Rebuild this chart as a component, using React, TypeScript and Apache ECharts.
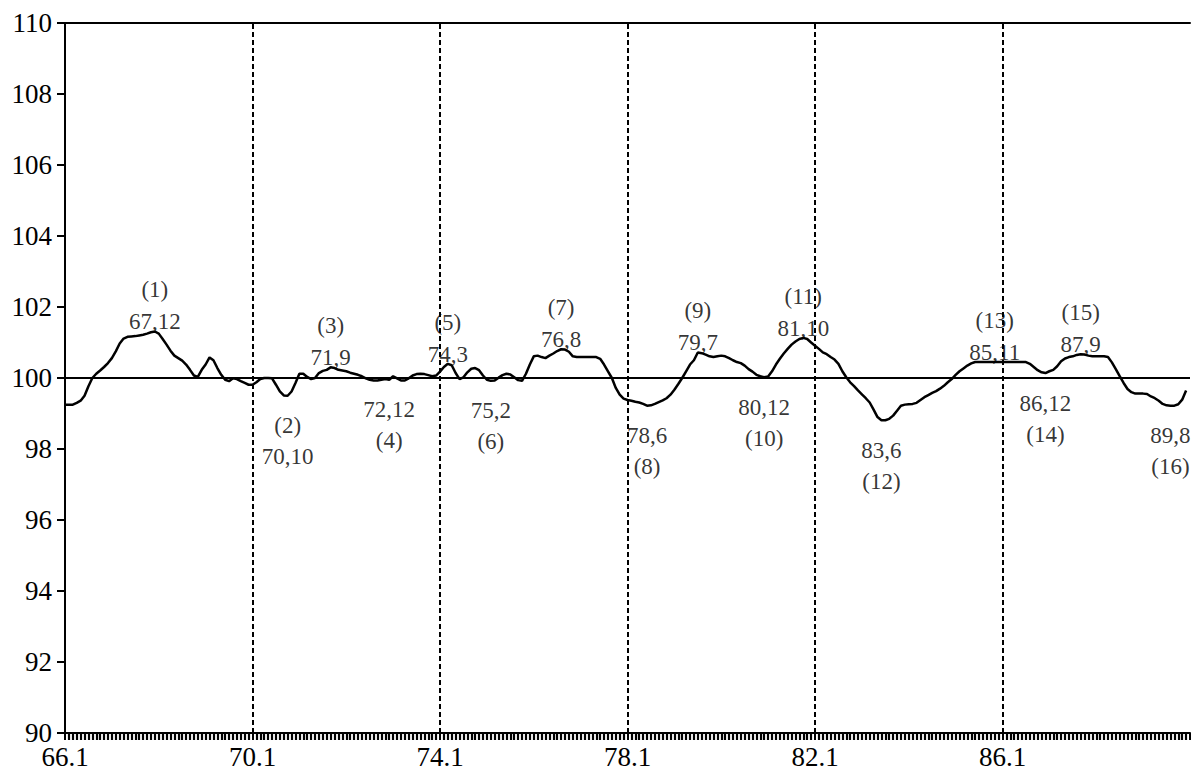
import React, { useEffect, useRef } from "react";
import * as echarts from "echarts";

// Monthly index values, January 1966 through December 1989 (one row per year)
const START_YEAR = 66;
const indexValues: number[] = [
  99.25, 99.25, 99.25, 99.3, 99.36, 99.5, 99.77, 100.0, 100.12, 100.21, 100.31, 100.42, // 66
  100.56, 100.75, 100.97, 101.11, 101.16, 101.17, 101.18, 101.2, 101.22, 101.25, 101.29, 101.31, // 67
  101.25, 101.1, 100.94, 100.77, 100.63, 100.56, 100.49, 100.38, 100.23, 100.07, 100.03, 100.23, // 68
  100.38, 100.58, 100.5, 100.28, 100.09, 99.95, 99.91, 99.99, 99.97, 99.91, 99.86, 99.81, // 69
  99.81, 99.88, 99.97, 100.0, 100.0, 99.99, 99.81, 99.62, 99.51, 99.5, 99.62, 99.86, // 70
  100.12, 100.12, 100.03, 99.97, 100.0, 100.14, 100.2, 100.23, 100.3, 100.28, 100.23, 100.21, // 71
  100.19, 100.15, 100.12, 100.09, 100.05, 99.99, 99.95, 99.93, 99.93, 99.95, 99.97, 99.95, // 72
  100.05, 99.99, 99.93, 99.93, 99.99, 100.07, 100.11, 100.12, 100.11, 100.08, 100.05, 100.07, // 73
  100.18, 100.31, 100.4, 100.36, 100.14, 99.97, 100.02, 100.16, 100.26, 100.28, 100.22, 100.07, // 74
  99.95, 99.92, 99.93, 100.01, 100.08, 100.12, 100.1, 100.02, 99.94, 99.92, 100.12, 100.38, // 75
  100.61, 100.63, 100.59, 100.56, 100.63, 100.69, 100.76, 100.81, 100.8, 100.74, 100.61, 100.59, // 76
  100.59, 100.59, 100.59, 100.59, 100.59, 100.54, 100.38, 100.19, 100.0, 99.72, 99.53, 99.42, // 77
  99.38, 99.36, 99.33, 99.31, 99.27, 99.22, 99.23, 99.27, 99.32, 99.37, 99.43, 99.53, // 78
  99.67, 99.83, 100.0, 100.19, 100.38, 100.5, 100.72, 100.7, 100.66, 100.61, 100.59, 100.61, // 79
  100.63, 100.61, 100.56, 100.5, 100.45, 100.42, 100.35, 100.25, 100.18, 100.09, 100.05, 100.02, // 80
  100.04, 100.19, 100.38, 100.54, 100.69, 100.82, 100.94, 101.03, 101.1, 101.13, 101.1, 101.0, // 81
  100.91, 100.82, 100.72, 100.67, 100.59, 100.52, 100.4, 100.19, 100.02, 99.88, 99.77, 99.65, // 82
  99.54, 99.43, 99.31, 99.11, 98.9, 98.81, 98.81, 98.85, 98.94, 99.08, 99.22, 99.25, // 83
  99.26, 99.27, 99.3, 99.38, 99.46, 99.52, 99.58, 99.63, 99.7, 99.78, 99.88, 99.97, // 84
  100.09, 100.19, 100.27, 100.35, 100.41, 100.45, 100.45, 100.45, 100.45, 100.45, 100.45, 100.45, // 85
  100.45, 100.45, 100.45, 100.45, 100.45, 100.45, 100.45, 100.4, 100.31, 100.22, 100.16, 100.14, // 86
  100.19, 100.23, 100.33, 100.47, 100.55, 100.59, 100.61, 100.65, 100.67, 100.66, 100.63, 100.61, // 87
  100.61, 100.61, 100.61, 100.59, 100.44, 100.25, 100.05, 99.86, 99.69, 99.6, 99.56, 99.56, // 88
  99.56, 99.55, 99.48, 99.43, 99.36, 99.27, 99.23, 99.22, 99.22, 99.26, 99.39, 99.65, // 89
];

// Turning points (year,month), alternating peak / trough, numbered (1)..(16)
const turningDates = [
  "67,12", "70,10", "71,9", "72,12", "74,3", "75,2", "76,8", "78,6",
  "79,7", "80,12", "81,10", "83,6", "85,11", "86,12", "87,9", "89,8",
];
const turningKinds = [
  "peak", "trough", "peak", "trough", "peak", "trough", "peak", "trough",
  "peak", "trough", "peak", "trough", "peak", "trough", "peak", "trough",
];
// Troughs whose number is printed above the date
const numberFirst = [2];

// Axis settings
const Y_MIN = 90;
const Y_MAX = 110;
const Y_STEP = 2;
const REFERENCE_LEVEL = 100;
const MONTHS_SPAN = 288;
const LABEL_EVERY = 48; // every four years
const dividerMonths = [48, 96, 144, 192, 240];

const SERIF = '"Liberation Serif", "Times New Roman", serif';
const INK = "#000";

const monthIndex = (date: string) => {
  const [yy, m] = date.split(",").map(Number);
  return (yy - START_YEAR) * 12 + (m - 1);
};

export default function App() {
  const ref = useRef<HTMLDivElement>(null);

  useEffect(() => {
    if (!ref.current) return;
    const chart = echarts.init(ref.current, undefined, { renderer: "svg" });

    const annotations = turningDates.map((date, k) => {
      const idx = monthIndex(date);
      const n = k + 1;
      const isPeak = turningKinds[k] === "peak";
      const text = isPeak || numberFirst.includes(n) ? `(${n})\n${date}` : `${date}\n(${n})`;
      return {
        value: [idx, indexValues[idx]],
        label: isPeak
          ? { position: "top", distance: -7, lineHeight: 32, formatter: text }
          : { position: "bottom", distance: 14, lineHeight: 31, formatter: text },
      };
    });

    const axisLineStyle = { color: INK, width: 2 };

    chart.setOption({
      animation: false,
      backgroundColor: "#fff",
      grid: { left: 65, right: 1, top: 23, bottom: 44 },
      xAxis: [
        {
          type: "value",
          min: 0,
          max: MONTHS_SPAN,
          interval: LABEL_EVERY,
          position: "bottom",
          axisLine: { show: true, onZero: false, lineStyle: axisLineStyle },
          axisTick: { show: true, length: 7, lineStyle: { color: INK, width: 2 } },
          minorTick: { show: true, splitNumber: LABEL_EVERY, length: 7, lineStyle: { color: INK, width: 2.2 } },
          axisLabel: {
            color: INK,
            fontFamily: SERIF,
            fontSize: 27,
            margin: 10,
            showMaxLabel: false,
            formatter: (v: number) =>
              v % LABEL_EVERY === 0 && v < MONTHS_SPAN ? `${START_YEAR + v / 12}.1` : "",
          },
          splitLine: { show: false },
        },
        {
          type: "value",
          min: 0,
          max: MONTHS_SPAN,
          position: "top",
          axisLine: { show: true, onZero: false, lineStyle: axisLineStyle },
          axisTick: { show: false },
          axisLabel: { show: false },
          splitLine: { show: false },
        },
      ],
      yAxis: {
        type: "value",
        min: Y_MIN,
        max: Y_MAX,
        interval: Y_STEP,
        offset: 2,
        axisLine: { show: true, lineStyle: axisLineStyle },
        axisTick: { show: true, length: 8, lineStyle: { color: INK, width: 2 } },
        axisLabel: { color: INK, fontFamily: SERIF, fontSize: 27, margin: 11 },
        splitLine: { show: false },
      },
      series: [
        {
          type: "line",
          data: indexValues.map((v, i) => [i, v]),
          symbol: "none",
          lineStyle: { color: INK, width: 2.5 },
          silent: true,
          markLine: {
            silent: true,
            symbol: ["none", "none"],
            label: { show: false },
            data: [
              ...dividerMonths.map((m) => ({
                xAxis: m,
                lineStyle: { color: INK, width: 2, type: [5, 3] },
              })),
              { yAxis: REFERENCE_LEVEL, lineStyle: { color: INK, width: 2, type: "solid" } },
            ],
          },
        },
        {
          type: "scatter",
          data: annotations,
          symbolSize: 1,
          itemStyle: { color: "rgba(0,0,0,0)" },
          silent: true,
          label: {
            show: true,
            color: INK,
            fontFamily: SERIF,
            fontSize: 23,
            align: "center",
          },
        },
      ],
    });

    return () => chart.dispose();
  }, []);

  return (
    <div
      ref={ref}
      style={{ position: "fixed", left: 0, top: 0, width: 1191, height: 777, background: "#fff" }}
    />
  );
}
